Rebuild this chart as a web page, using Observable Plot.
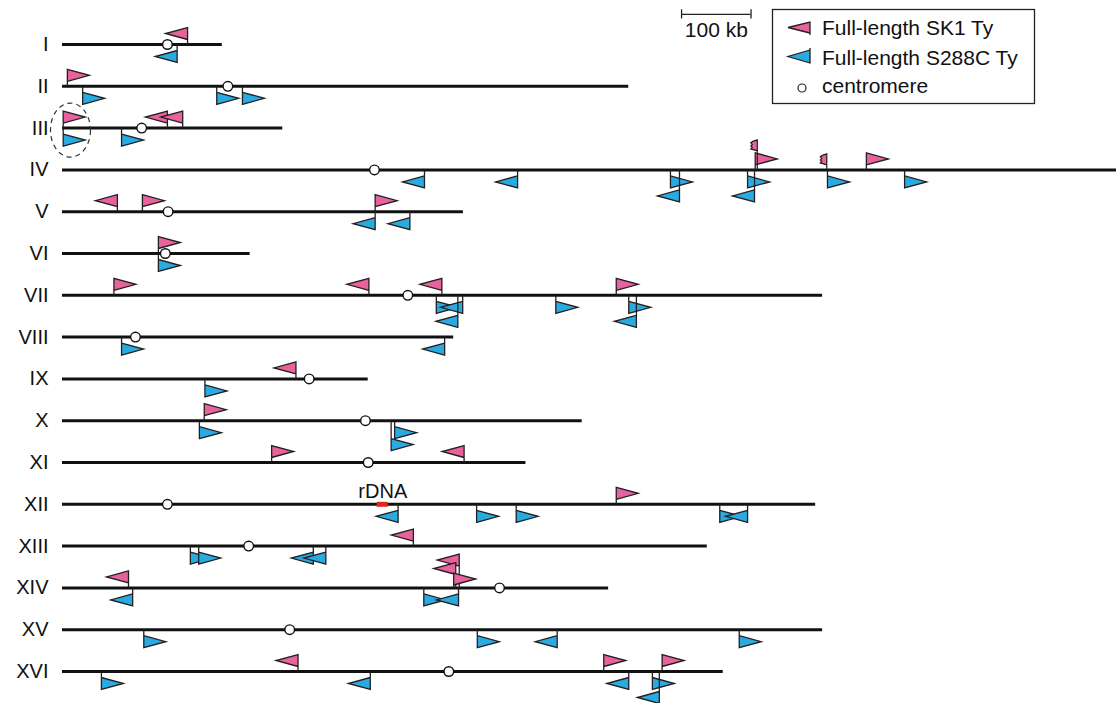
<!DOCTYPE html>
<html><head><meta charset="utf-8">
<script src="https://cdn.jsdelivr.net/npm/d3@7"></script>
<script src="https://cdn.jsdelivr.net/npm/@observablehq/plot@0.6"></script>
<style>
body{margin:0;background:#fff;font-family:"Liberation Sans",Arial,sans-serif;}
#wrap{position:relative;width:1116px;height:703px;overflow:hidden;background:#fff;}
#wrap svg.overlay{position:absolute;left:0;top:0;}
</style></head><body><div id="wrap"></div><script>
// ---- data ----
const chromosomes = ["I","II","III","IV","V","VI","VII","VIII","IX","X","XI","XII","XIII","XIV","XV","XVI"];
const chromLengthKb = [230,815,317,1532,577,270,1094,563,440,748,667,1084,928,786,1094,951];
const centromereKb = [151,238,114,449,152,148,497,105,355,436,440,151,268,629,327,556];
// [chromosome, position kb, direction, stack tier]
const sk1Ty = [
  ["I",180,"L",1],["II",7,"R",1],["III",1,"R",1],["III",151,"L",1],["III",173,"L",1],
  ["IV",997,"R",1],["IV",1157,"R",1],
  ["V",79,"L",1],["V",115,"R",1],["V",450,"R",1],["VI",138,"R",1],
  ["VII",74,"R",1],["VII",441,"L",1],["VII",546,"L",1],["VII",797,"R",1],
  ["IX",336,"L",1],["X",204,"R",1],["XI",301,"R",1],["XI",578,"L",1],
  ["XII",797,"R",1],["XIII",505,"L",1],
  ["XIV",95,"L",1],["XIV",571,"L",2.2],["XIV",566,"L",1.6],["XIV",563,"R",0.85],
  ["XVI",339,"L",1],["XVI",779,"R",1],["XVI",863,"R",1]
];
// truncated SK1 Ty fragments: [chromosome, position kb, stack tier]
const sk1Partial = [["IV",1000,2],["IV",1100,1]];
const s288cTy = [
  ["I",165,"L",1],["II",29,"R",1],["II",222,"R",1],["II",259,"R",1],
  ["III",1,"R",1],["III",85,"R",1],
  ["IV",521,"L",1],["IV",655,"L",1],["IV",875,"R",1],["IV",888,"L",2],["IV",986,"R",1],["IV",996,"L",2],["IV",1101,"R",1],["IV",1212,"R",1],
  ["V",450,"L",1],["V",500,"L",1],["VI",138,"R",1],
  ["VII",538,"R",1],["VII",576,"L",1],["VII",569,"L",2],["VII",710,"R",1],["VII",815,"R",1],["VII",826,"L",2],
  ["VIII",85,"R",1],["VIII",550,"L",1],["IX",205,"R",1],
  ["X",197,"R",1],["X",478,"R",1],["X",473,"R",1.85],
  ["XII",483,"L",1],["XII",596,"R",1],["XII",653,"R",1],["XII",946,"R",1],["XII",986,"L",1],
  ["XIII",184,"R",1],["XIII",196,"R",1],["XIII",361,"L",1],["XIII",379,"L",1],
  ["XIV",101,"L",1],["XIV",520,"R",1],["XIV",570,"L",1],
  ["XV",117,"R",1],["XV",597,"R",1],["XV",712,"L",1],["XV",974,"R",1],
  ["XVI",56,"R",1],["XVI",443,"L",1],["XVI",815,"L",1],["XVI",849,"R",1],["XVI",859,"L",2]
];
const highlight = [{chrom:"III", posKb:11.5}];
const rDNA = {chrom:"XII", startKb:453, endKb:469, label:"rDNA"};
const scaleBar = {startKb:891, lengthKb:100, row:-0.72, unit:"kb"};
const legendLabels = ["Full-length SK1 Ty","Full-length S288C Ty","centromere"];
const colors = {sk1:"#E8629E", s288c:"#29ABE2", line:"#111", outline:"#231F20", rdna:"#E3261F"};

// ---- helpers ----
const rowOf = c => chromosomes.indexOf(c);
const chromData = chromosomes.map((name,i)=>({name,row:i,length:chromLengthKb[i],cen:centromereKb[i]}));

function flagSymbol(side, dir, tier){
  const W=22, H=12, base=5+14*(tier-1), s = dir==="R"?1:-1;
  return {draw(ctx){
    if(side==="up"){
      const bot=-base, top=-(base+H);
      ctx.moveTo(0,0); ctx.lineTo(0,top); ctx.lineTo(s*W,(top+bot)/2); ctx.lineTo(0,bot);
    } else {
      const top=base+1, bot=base+1+H;
      ctx.moveTo(0,0); ctx.lineTo(0,bot); ctx.lineTo(s*W,(top+bot)/2); ctx.lineTo(0,top);
    }
  }};
}
function partialSymbol(tier){
  const bot=-(5+14*(tier-1)), top=bot-11;
  return {draw(ctx){
    ctx.moveTo(0,0); ctx.lineTo(0,top); ctx.lineTo(-4.5,top+1.5); ctx.lineTo(-6.5,top+3);
    ctx.lineTo(-5,top+4.5); ctx.lineTo(-6.5,top+6); ctx.lineTo(-5,top+7.5); ctx.lineTo(-6.5,top+9);
    ctx.lineTo(0,bot);
  }};
}
const ellipseSymbol = {draw(ctx){
  const rx=20, ry=27, k=0.5523;
  ctx.moveTo(rx,0);
  ctx.bezierCurveTo(rx,ry*k,rx*k,ry,0,ry);
  ctx.bezierCurveTo(-rx*k,ry,-rx,ry*k,-rx,0);
  ctx.bezierCurveTo(-rx,-ry*k,-rx*k,-ry,0,-ry);
  ctx.bezierCurveTo(rx*k,-ry,rx,-ry*k,rx,0);
  ctx.closePath();
}};

const flagMarks = [];
for (const [c,pos,dir,tier] of sk1Ty)
  flagMarks.push(Plot.dot([{row:rowOf(c),pos}], {x:"pos", y:"row", symbol:flagSymbol("up",dir,tier), fill:colors.sk1, stroke:colors.outline, strokeWidth:1.3}));
for (const [c,pos,tier] of sk1Partial)
  flagMarks.push(Plot.dot([{row:rowOf(c),pos}], {x:"pos", y:"row", symbol:partialSymbol(tier), fill:colors.sk1, stroke:colors.outline, strokeWidth:1.2}));
for (const [c,pos,dir,tier] of s288cTy)
  flagMarks.push(Plot.dot([{row:rowOf(c),pos}], {x:"pos", y:"row", symbol:flagSymbol("down",dir,tier), fill:colors.s288c, stroke:colors.outline, strokeWidth:1.3}));

const plot = Plot.plot({
  width:1116, height:703,
  marginLeft:62, marginRight:0, marginTop:0, marginBottom:0,
  x:{domain:[0,1517], axis:null},
  y:{domain:[0,15], range:[44,671]},
  style:{fontFamily:"'Liberation Sans', Arial, sans-serif", fontSize:"20px", color:"#111", background:"transparent", overflow:"hidden"},
  marks:[
    Plot.ruleY(chromData, {y:"row", x1:0, x2:"length", stroke:colors.line, strokeWidth:3, clip:true}),
    ...flagMarks,
    Plot.dot(highlight, {x:"posKb", y:d=>rowOf(d.chrom), dy:2, symbol:ellipseSymbol, fill:"none", stroke:"#333", strokeWidth:1.2, strokeDasharray:"5,4"}),
    Plot.ruleY([rDNA], {y:d=>rowOf(d.chrom), x1:"startKb", x2:"endKb", stroke:colors.rdna, strokeWidth:5}),
    Plot.text([rDNA], {x:d=>(d.startKb+d.endKb)/2, y:d=>rowOf(d.chrom), text:"label", dy:-13, fontSize:20, fill:"#111"}),
    Plot.dot(chromData, {x:"cen", y:"row", r:4.8, fill:"white", stroke:colors.line, strokeWidth:1.4}),
    Plot.axisY(d3.range(chromosomes.length), {tickFormat:i=>chromosomes[i], tickSize:0, tickPadding:14, fontSize:20, label:null}),
    Plot.ruleY([scaleBar], {y:"row", x1:"startKb", x2:d=>d.startKb+d.lengthKb, stroke:"#222", strokeWidth:1.3}),
    Plot.ruleX([scaleBar.startKb, scaleBar.startKb+scaleBar.lengthKb], {x:d=>d, y1:scaleBar.row-0.11, y2:scaleBar.row+0.11, stroke:"#222", strokeWidth:1.3}),
    Plot.text([scaleBar], {x:d=>d.startKb+d.lengthKb/2, y:"row", text:d=>`${d.lengthKb} ${d.unit}`, dy:16, fontSize:21, fill:"#111"})
  ]
});
const wrap = document.getElementById("wrap");
wrap.appendChild(plot);

// ---- legend (overlay, top right) ----
const lg = d3.select(wrap).append("svg").attr("class","overlay").attr("width",1116).attr("height",703)
  .style("font-family","'Liberation Sans', Arial, sans-serif");
lg.append("rect").attr("x",772.5).attr("y",9.5).attr("width",262).attr("height",94)
  .attr("fill","white").attr("stroke","#222").attr("stroke-width",1.3);
lg.append("path").attr("d","M810,35 L810,22 L788,27.5 L810,33").attr("fill",colors.sk1).attr("stroke",colors.outline).attr("stroke-width",1.3);
lg.append("path").attr("d","M810,48 L810,63 L788,56.5 L810,50").attr("fill",colors.s288c).attr("stroke",colors.outline).attr("stroke-width",1.3);
lg.append("circle").attr("cx",802).attr("cy",88).attr("r",4).attr("fill","white").attr("stroke","#222").attr("stroke-width",1.2);
const baselines = [35,65,93];
legendLabels.forEach((t,i)=>lg.append("text").attr("x",822).attr("y",baselines[i]).attr("font-size",21).attr("fill","#111").text(t));
</script></body></html>
